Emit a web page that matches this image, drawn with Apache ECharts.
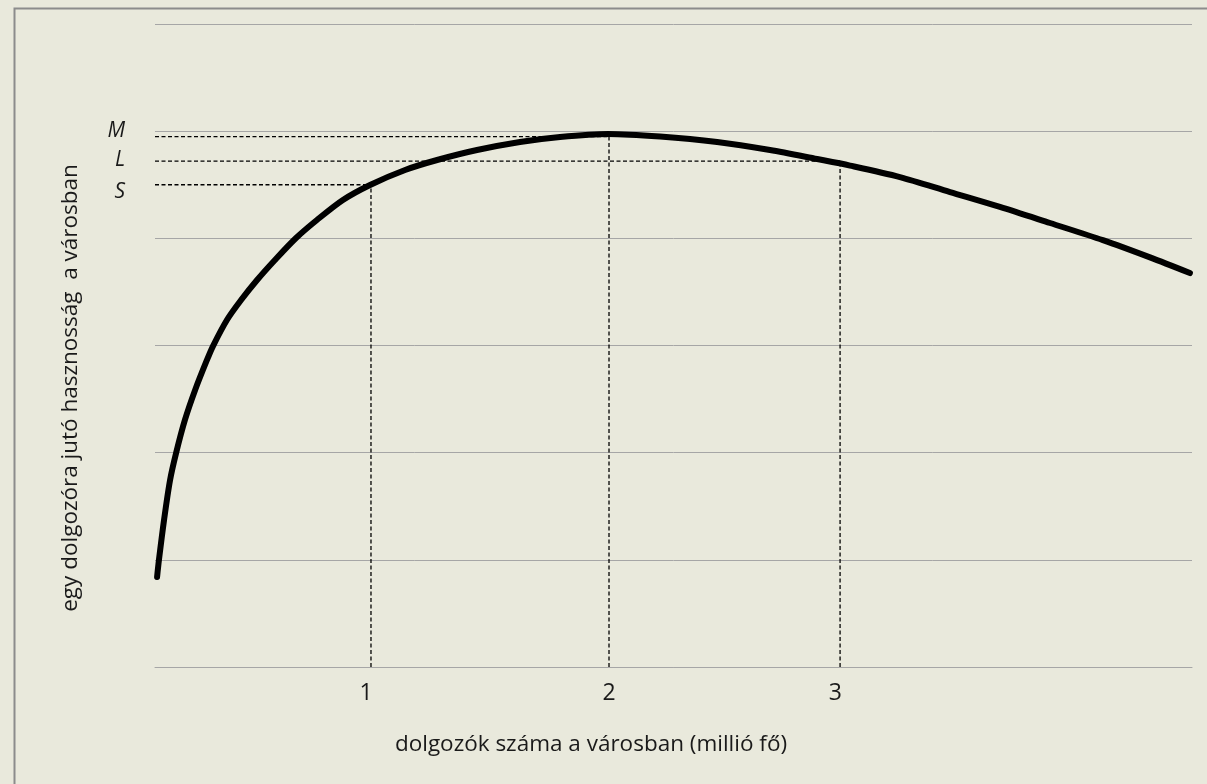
<!DOCTYPE html>
<html>
<head>
<meta charset="utf-8">
<script src="https://cdn.jsdelivr.net/npm/echarts@6/dist/echarts.min.js"></script>
<style>
html,body{margin:0;padding:0;background:#e9e9dc;}
#chart{width:1207px;height:784px;}
</style>
</head>
<body>
<div id="chart"></div>
<script>
// Curve (x in axis units, y in axis units)
const curveX = [0.052, 0.060, 0.082, 0.108, 0.134, 0.172, 0.216, 0.267, 0.293, 0.353, 0.414, 0.483, 0.560, 0.651, 0.741, 0.853, 0.970, 1.121, 1.259, 1.431, 1.616, 1.789, 1.996,
                2.220, 2.466, 2.694, 2.897, 3.039, 3.254, 3.470, 3.685, 3.901, 4.129, 4.332, 4.504];
const curveY = [0.840, 0.999, 1.372, 1.745, 1.997, 2.305, 2.585, 2.865, 2.995, 3.238, 3.424, 3.611, 3.798, 4.003, 4.171, 4.358, 4.498, 4.638, 4.731, 4.824, 4.899, 4.946, 4.974,
                4.950, 4.899, 4.824, 4.740, 4.679, 4.572, 4.432, 4.293, 4.143, 3.983, 3.822, 3.676];

// Reference (dashed) levels
const refNames = ['S', 'M', 'L'];
const refX = [0.974, 2.0, 2.996];
const refY = [4.50, 4.95, 4.72];

// Tick labels
const xTickValues = [0.953, 2.0, 2.976];
const xTickLabels = ['1', '2', '3'];
const yTickValues = [4.428, 4.731, 5.0];
const yTickLabels = ['S', 'L', 'M'];

const xMin = 0.043, xMax = 4.513;
const yMin = 0, yMax = 6, yInterval = 1;

const xTitle = 'dolgozók száma a városban (millió fő)';
const yTitle = 'egy dolgozóra jutó hasznosság  a városban';

const FONT = '"Open Sans", "Noto Sans", sans-serif';

const chart = echarts.init(document.getElementById('chart'), null, {renderer: 'canvas'});

const dashStyle = {color: '#000', width: 1.3, type: [4, 2.5]};
const refSeries = [];
for (let i = 0; i < refX.length; i++) {
  refSeries.push({
    type: 'line', symbol: 'none', silent: true, animation: false,
    lineStyle: dashStyle, z: 2,
    data: [[xMin, refY[i]], [refX[i], refY[i]]]
  });
  refSeries.push({
    type: 'line', symbol: 'none', silent: true, animation: false,
    lineStyle: dashStyle, z: 2,
    data: [[refX[i], yMin], [refX[i], refY[i]]]
  });
}

const option = {
  backgroundColor: '#e9e9dc',
  animation: false,
  grid: {left: 155, right: 15, top: 24, bottom: 117},
  xAxis: {
    type: 'value', min: xMin, max: xMax,
    axisLine: {show: true, lineStyle: {color: '#a6a6a6', width: 1}},
    axisTick: {show: false},
    splitLine: {show: false},
    axisLabel: {
      customValues: xTickValues,
      formatter: v => { const i = xTickValues.indexOf(v); return i >= 0 ? xTickLabels[i] : ''; },
      color: '#1a1a1a', fontFamily: FONT, fontSize: 23, margin: 15
    }
  },
  yAxis: {
    type: 'value', min: yMin, max: yMax, interval: yInterval,
    axisLine: {show: false},
    axisTick: {show: false},
    splitLine: {show: true, lineStyle: {color: '#a6a6a6', width: 1}},
    axisLabel: {
      customValues: yTickValues,
      formatter: v => { const i = yTickValues.indexOf(v); return i >= 0 ? yTickLabels[i] : ''; },
      color: '#1a1a1a', fontFamily: FONT, fontSize: 21, fontStyle: 'italic', margin: 30
    }
  },
  graphic: [
    {type: 'rect', left: 12, top: 6, silent: true, z: -10,
     shape: {width: 1300, height: 900},
     style: {fill: 'none', stroke: '#8c8c8c', lineWidth: 2}},
    {type: 'text', x: 591, y: 745, silent: true,
     style: {text: xTitle, fill: '#1a1a1a', font: '22.5px ' + FONT, align: 'center', verticalAlign: 'middle'}},
    {type: 'text', x: 71, y: 388, rotation: Math.PI / 2, silent: true,
     style: {text: yTitle, fill: '#1a1a1a', font: '22.5px ' + FONT, align: 'center', verticalAlign: 'middle'}}
  ],
  series: [
    ...refSeries,
    {
      type: 'line', symbol: 'none', smooth: 0.3, silent: true, z: 5,
      lineStyle: {color: '#000', width: 6, cap: 'round'},
      data: curveX.map((x, i) => [x, curveY[i]])
    }
  ]
};
chart.setOption(option);
</script>
</body>
</html>
